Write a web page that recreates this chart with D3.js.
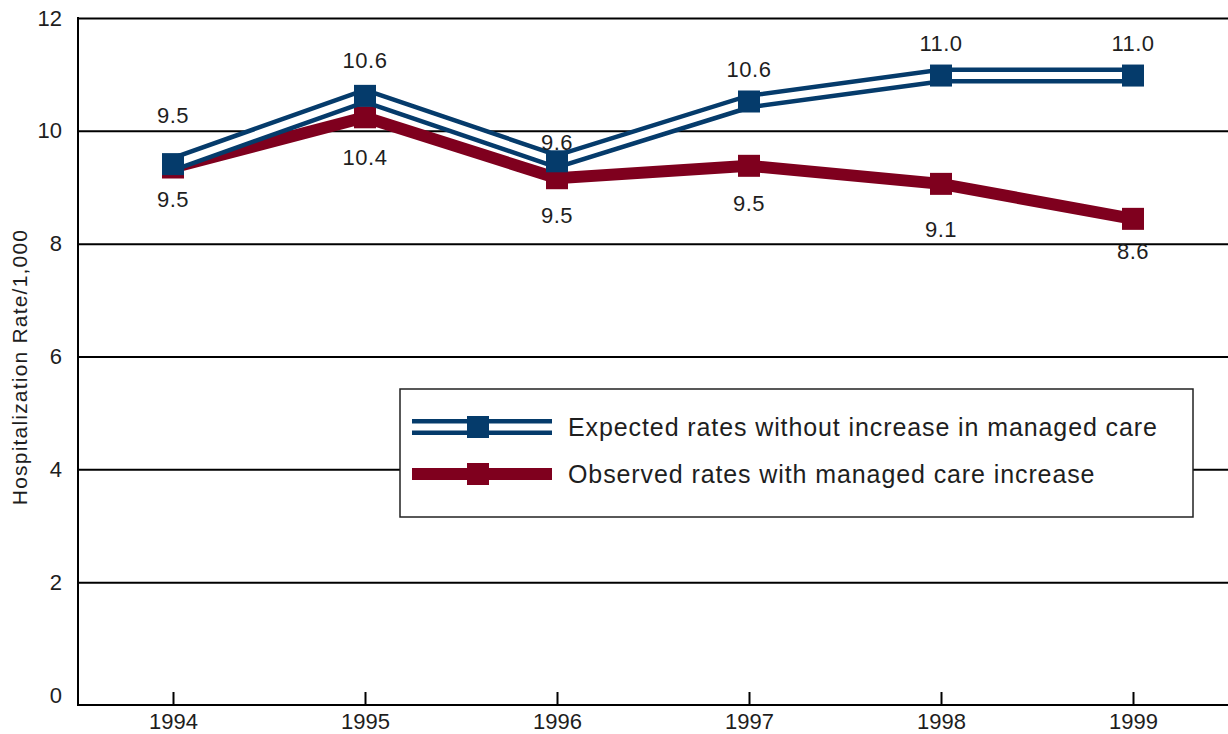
<!doctype html>
<html lang="en">
  <head>
    <meta charset="utf-8">
    <title>Hospitalization Rate</title>
    <script src="https://d3js.org/d3.v7.min.js"></script>
    <style>
      body { margin: 0; background: #fff; }
      text { font-family: 'Liberation Sans', Arial, sans-serif; fill: #1e1e1e; }
      .axes path { display: none; }
      .axes line { stroke: #000; stroke-width: 2; }
    </style>
  </head>
  <body>
    <div id="holder" class="visual"></div>
  <script>
      // data
      const years = [1994, 1995, 1996, 1997, 1998, 1999];
      const expected = [9.41, 10.62, 9.46, 10.52, 10.98, 10.98];
      const observed = [9.35, 10.24, 9.16, 9.38, 9.06, 8.44];
      const expectedLabels = ['9.5', '10.6', '9.6', '10.6', '11.0', '11.0'];
      const observedLabels = ['9.5', '10.4', '9.5', '9.5', '9.1', '8.6'];
      const yTicks = [0, 2, 4, 6, 8, 10, 12];
      const legendNames = ['Expected rates without increase in managed care', 'Observed rates with managed care increase'];

      // label offsets from the marker (layout only)
      const expLabelDy = [-49, -36, -19, -32, -32, -32];
      const obsLabelDy = [32, 40, 37, 37, 45, 32];

      const w = 1228, h = 734;
      const blue = '#053b6b';
      const red = '#7f001e';
      const markerSize = 22;

      const x = d3.scaleLinear()
          .domain([1994, 1999])
          .range([173, 1133]);
      const y = d3.scaleLinear()
          .domain([0, 12])
          .range([695, 18]);

      const left = 78, right = 1228, bottom = 705;

      const svg = d3.select('.visual')
          .append('svg')
          .attr('width', w)
          .attr('height', h);

      // y axis with gridlines
      const yAxis = d3.axisLeft(y)
          .tickValues(yTicks)
          .tickSizeInner(-(right - left))
          .tickSizeOuter(0)
          .tickPadding(16)
          .tickFormat(d3.format('d'));

      const gy = svg.append('g')
          .attr('class', 'axes')
          .attr('transform', 'translate(' + left + ',0)')
          .call(yAxis);
      gy.selectAll('.tick text').attr('font-size', 22);
      gy.selectAll('.tick').filter(d => d === 0).select('line').remove();

      // x axis
      const xAxis = d3.axisBottom(x)
          .tickValues(years)
          .tickSizeInner(-13)
          .tickSizeOuter(0)
          .tickPadding(8)
          .tickFormat(d3.format('d'));

      const gx = svg.append('g')
          .attr('class', 'axes')
          .attr('transform', 'translate(0,' + bottom + ')')
          .call(xAxis);
      gx.selectAll('.tick text').attr('font-size', 22);

      // frame
      svg.append('line')
          .attr('x1', left).attr('x2', left)
          .attr('y1', y(12) - 1).attr('y2', bottom + 1)
          .attr('stroke', '#000').attr('stroke-width', 2);
      svg.append('line')
          .attr('x1', left).attr('x2', right)
          .attr('y1', bottom).attr('y2', bottom)
          .attr('stroke', '#000').attr('stroke-width', 2);

      // axis title
      svg.append('text')
          .text('Hospitalization Rate/1,000')
          .attr('transform', 'translate(27,367) rotate(-90)')
          .attr('text-anchor', 'middle')
          .attr('font-size', 21)
          .attr('letter-spacing', 1.2);

      const line = d3.line()
          .x((d, i) => x(years[i]))
          .y(d => y(d));

      // observed series
      svg.append('path')
          .datum(observed)
          .attr('d', line)
          .attr('fill', 'none')
          .attr('stroke', red)
          .attr('stroke-width', 12);
      svg.selectAll('.obsMark')
          .data(observed)
          .enter().append('rect')
          .attr('class', 'obsMark')
          .attr('x', (d, i) => x(years[i]) - markerSize / 2)
          .attr('y', d => y(d) - markerSize / 2)
          .attr('width', markerSize)
          .attr('height', markerSize)
          .attr('fill', red);

      // expected series: double line
      svg.append('path')
          .datum(expected)
          .attr('d', line)
          .attr('fill', 'none')
          .attr('stroke', blue)
          .attr('stroke-width', 16);
      svg.append('path')
          .datum(expected)
          .attr('d', line)
          .attr('fill', 'none')
          .attr('stroke', '#fff')
          .attr('stroke-width', 7);
      svg.selectAll('.expMark')
          .data(expected)
          .enter().append('rect')
          .attr('class', 'expMark')
          .attr('x', (d, i) => x(years[i]) - markerSize / 2)
          .attr('y', d => y(d) - markerSize / 2)
          .attr('width', markerSize)
          .attr('height', markerSize)
          .attr('fill', blue);

      // value labels
      svg.selectAll('.expLabel')
          .data(expected)
          .enter().append('text')
          .attr('class', 'expLabel')
          .text((d, i) => expectedLabels[i])
          .attr('x', (d, i) => x(years[i]))
          .attr('y', (d, i) => y(d) + expLabelDy[i])
          .attr('dy', '0.35em')
          .attr('text-anchor', 'middle')
          .attr('font-size', 22)
          .attr('letter-spacing', 0.5);
      svg.selectAll('.obsLabel')
          .data(observed)
          .enter().append('text')
          .attr('class', 'obsLabel')
          .text((d, i) => observedLabels[i])
          .attr('x', (d, i) => x(years[i]))
          .attr('y', (d, i) => y(d) + obsLabelDy[i])
          .attr('dy', '0.35em')
          .attr('text-anchor', 'middle')
          .attr('font-size', 22)
          .attr('letter-spacing', 0.5);

      /* LEGEND */
      const lg = svg.append('g')
          .attr('class', 'legend')
          .attr('transform', 'translate(400,389)');
      lg.append('rect')
          .attr('width', 793)
          .attr('height', 128)
          .attr('fill', '#fff')
          .attr('stroke', '#222')
          .attr('stroke-width', 1.5);

      const rows = [
          { name: legendNames[0], color: blue, y: 38, double: true },
          { name: legendNames[1], color: red, y: 85, double: false }
      ];
      rows.forEach(function(r) {
          lg.append('line')
              .attr('x1', 12).attr('x2', 152)
              .attr('y1', r.y).attr('y2', r.y)
              .attr('stroke', r.color)
              .attr('stroke-width', r.double ? 16 : 12);
          if (r.double) {
              lg.append('line')
                  .attr('x1', 12).attr('x2', 152)
                  .attr('y1', r.y).attr('y2', r.y)
                  .attr('stroke', '#fff')
                  .attr('stroke-width', 7);
          }
          lg.append('rect')
              .attr('x', 78 - markerSize / 2)
              .attr('y', r.y - markerSize / 2)
              .attr('width', markerSize)
              .attr('height', markerSize)
              .attr('fill', r.color);
          lg.append('text')
              .text(r.name)
              .attr('x', 168)
              .attr('y', r.y)
              .attr('dy', '0.35em')
              .attr('font-size', 25)
              .attr('letter-spacing', 0.9);
      });
  </script>
  </body>
</html>
